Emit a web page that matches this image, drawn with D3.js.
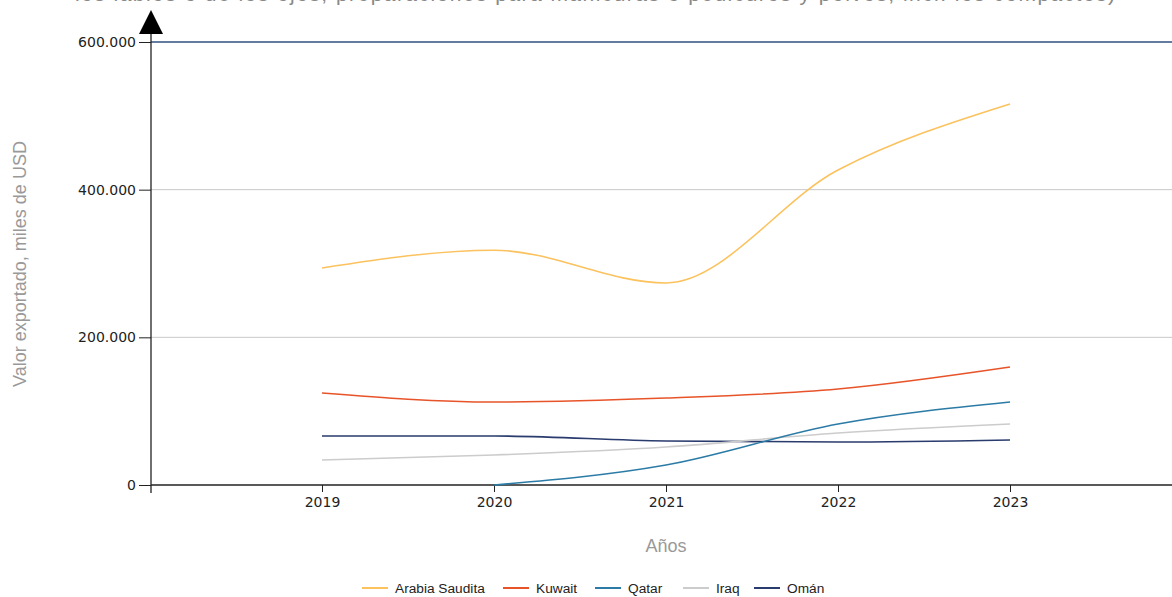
<!DOCTYPE html>
<html>
<head>
<meta charset="utf-8">
<script src="https://cdn.jsdelivr.net/npm/d3@7"></script>
<style>
  html, body { margin: 0; padding: 0; background: #fff; }
  svg { display: block; font-family: "Liberation Sans", Arial, sans-serif; }
</style>
</head>
<body>
<svg id="chart" width="1172" height="597"></svg>
<script>
// Export values, thousands of USD, per country and year
const years = [2019, 2020, 2021, 2022, 2023];
const arabiaSaudita = [293900, 318000, 273600, 426600, 516000];
const kuwait = [124600, 112400, 117800, 130000, 159800];
const qatar = [null, 0, 27000, 82600, 112400];
const iraq = [33900, 40600, 51500, 70400, 82600];
const oman = [66400, 66400, 59600, 58200, 61000];
const yTicks = [0, 200000, 400000, 600000];
const seriesNames = ["Arabia Saudita", "Kuwait", "Qatar", "Iraq", "Omán"];
const seriesColors = ["#fbc25e", "#e8542a", "#2c7ba6", "#cccccc", "#2a3b6e"];
const seriesValues = [arabiaSaudita, kuwait, qatar, iraq, oman];

const titleText = "los labios o de los ojos; preparaciones para manicuras o pedicuros y polvos, incl. los compactos)";

const svg = d3.select("#chart");
const W = 1172;
const plotLeft = 151, plotBottom = 485, plotTop = 42;
const tickFont = "DejaVu Sans, Verdana, sans-serif";

const x = d3.scaleLinear().domain([2019, 2023]).range([322, 1010]);
const y = d3.scaleLinear().domain([0, 600000]).range([plotBottom, plotTop]);

// title (second line of a longer heading, running off the top edge)
svg.append("text")
  .attr("x", 595).attr("y", 1)
  .attr("text-anchor", "middle")
  .attr("font-size", 21)
  .attr("fill", "#888")
  .attr("textLength", 1040)
  .attr("lengthAdjust", "spacing")
  .text(titleText);

// gridlines
svg.append("g").selectAll("line")
  .data(yTicks.filter(d => d > 0))
  .join("line")
  .attr("x1", plotLeft).attr("x2", W)
  .attr("y1", d => y(d)).attr("y2", d => y(d))
  .attr("stroke", d => d === 600000 ? "#2f4f7f" : "#c8c8c8")
  .attr("stroke-width", d => d === 600000 ? 1.3 : 1);

// y axis
const yAxis = d3.axisLeft(y)
  .tickValues(yTicks)
  .tickSize(12)
  .tickPadding(3)
  .tickFormat(d => d3.format(",")(d).replace(/,/g, "."));
const gy = svg.append("g").attr("transform", `translate(${plotLeft},0)`).call(yAxis);
gy.select(".domain").remove();
gy.selectAll(".tick line").attr("stroke", "#222");
gy.selectAll(".tick text").attr("font-size", 14).attr("font-family", tickFont).attr("fill", "#222");
svg.append("line")
  .attr("x1", plotLeft).attr("x2", plotLeft)
  .attr("y1", 30).attr("y2", plotBottom + 8)
  .attr("stroke", "#222").attr("stroke-width", 1.3);
// arrow head on the y axis
svg.append("path")
  .attr("d", `M${plotLeft},10 L${plotLeft + 12},34 L${plotLeft - 12},34 Z`)
  .attr("fill", "#000");

// x axis
const xAxis = d3.axisBottom(x)
  .tickValues(years)
  .tickSize(7)
  .tickPadding(5)
  .tickFormat(d3.format("d"));
const gx = svg.append("g").attr("transform", `translate(0,${plotBottom})`).call(xAxis);
gx.select(".domain").remove();
gx.selectAll(".tick line").attr("stroke", "#222");
gx.selectAll(".tick text").attr("font-size", 14).attr("font-family", tickFont).attr("fill", "#222");
svg.append("line")
  .attr("x1", plotLeft).attr("x2", W)
  .attr("y1", plotBottom).attr("y2", plotBottom)
  .attr("stroke", "#222").attr("stroke-width", 1.3);

// axis titles
svg.append("text")
  .attr("transform", "translate(26,264) rotate(-90)")
  .attr("text-anchor", "middle")
  .attr("font-size", 18)
  .attr("fill", "#999")
  .text("Valor exportado, miles de USD");
svg.append("text")
  .attr("x", 666).attr("y", 552)
  .attr("text-anchor", "middle")
  .attr("font-size", 18)
  .attr("fill", "#999")
  .text("Años");

// series lines
const line = d3.line()
  .defined(d => d.v !== null)
  .x(d => x(d.year))
  .y(d => y(d.v))
  .curve(d3.curveMonotoneX);

svg.append("g").selectAll("path")
  .data(seriesNames.map((name, i) => ({
    name, color: seriesColors[i],
    pts: years.map((yr, j) => ({ year: yr, v: seriesValues[i][j] }))
  })).reverse())
  .join("path")
  .attr("fill", "none")
  .attr("stroke", d => d.color)
  .attr("stroke-width", 1.6)
  .attr("d", d => line(d.pts));

// legend
const legendX = [362, 503, 595, 683, 754];
const lg = svg.append("g").selectAll("g")
  .data(seriesNames)
  .join("g")
  .attr("transform", (d, i) => `translate(${legendX[i]},588)`);
lg.append("line")
  .attr("x1", 0).attr("x2", 26)
  .attr("stroke", (d, i) => seriesColors[i])
  .attr("stroke-width", 2);
lg.append("text")
  .attr("x", 33).attr("y", 5)
  .attr("font-size", 13.7)
  .attr("fill", "#222")
  .text(d => d);
</script>
</body>
</html>
